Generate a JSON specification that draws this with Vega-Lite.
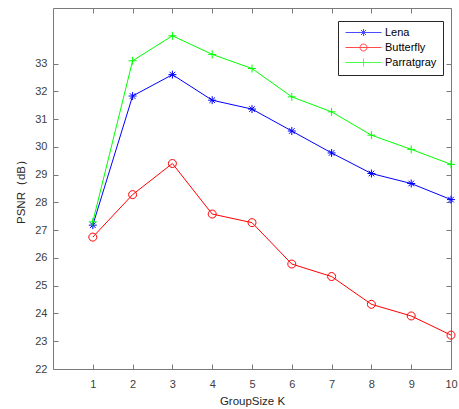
{
  "$schema": "https://vega.github.io/schema/vega-lite/v6.json",
  "width": 398,
  "height": 361,
  "autosize": {"type": "none"},
  "padding": {"left": 53, "top": 8, "right": 8, "bottom": 40},
  "background": "white",
  "config": {
    "view": {"stroke": null},
    "font": "Liberation Sans",
    "axis": {
      "domainColor": "#7a7a7a",
      "domainWidth": 1,
      "tickColor": "#7a7a7a",
      "tickSize": -5,
      "tickWidth": 1,
      "labelColor": "#404040",
      "labelFont": "Liberation Sans",
      "labelFontSize": 11,
      "titleFont": "Liberation Sans",
      "titleFontSize": 11.5,
      "titleFontWeight": "normal",
      "titleColor": "#262626",
      "grid": false
    }
  },
  "data": {
    "values": [
      {"k": 1, "series": "Lena", "psnr": 27.18},
      {"k": 2, "series": "Lena", "psnr": 31.83},
      {"k": 3, "series": "Lena", "psnr": 32.6},
      {"k": 4, "series": "Lena", "psnr": 31.68},
      {"k": 5, "series": "Lena", "psnr": 31.36},
      {"k": 6, "series": "Lena", "psnr": 30.57},
      {"k": 7, "series": "Lena", "psnr": 29.78},
      {"k": 8, "series": "Lena", "psnr": 29.04},
      {"k": 9, "series": "Lena", "psnr": 28.68},
      {"k": 10, "series": "Lena", "psnr": 28.1},
      {"k": 1, "series": "Butterfly", "psnr": 26.75},
      {"k": 2, "series": "Butterfly", "psnr": 28.28},
      {"k": 3, "series": "Butterfly", "psnr": 29.4},
      {"k": 4, "series": "Butterfly", "psnr": 27.58},
      {"k": 5, "series": "Butterfly", "psnr": 27.27},
      {"k": 6, "series": "Butterfly", "psnr": 25.78},
      {"k": 7, "series": "Butterfly", "psnr": 25.33},
      {"k": 8, "series": "Butterfly", "psnr": 24.33},
      {"k": 9, "series": "Butterfly", "psnr": 23.91},
      {"k": 10, "series": "Butterfly", "psnr": 23.22},
      {"k": 1, "series": "Parratgray", "psnr": 27.3},
      {"k": 2, "series": "Parratgray", "psnr": 33.1},
      {"k": 3, "series": "Parratgray", "psnr": 34.0},
      {"k": 4, "series": "Parratgray", "psnr": 33.33},
      {"k": 5, "series": "Parratgray", "psnr": 32.82},
      {"k": 6, "series": "Parratgray", "psnr": 31.8},
      {"k": 7, "series": "Parratgray", "psnr": 31.26},
      {"k": 8, "series": "Parratgray", "psnr": 30.42},
      {"k": 9, "series": "Parratgray", "psnr": 29.91},
      {"k": 10, "series": "Parratgray", "psnr": 29.37}
    ]
  },
  "encoding": {
    "x": {
      "field": "k", "type": "quantitative",
      "scale": {"domain": [0, 10], "nice": false, "zero": false},
      "axis": null
    },
    "y": {
      "field": "psnr", "type": "quantitative",
      "scale": {"domain": [22, 35], "nice": false, "zero": false},
      "axis": null
    }
  },
  "layer": [
    {
      "transform": [{"filter": "datum.series === 'Lena'"}],
      "mark": {"type": "line", "strokeWidth": 1, "color": "#0000ff"},
      "encoding": {
        "x": {"field": "k", "type": "quantitative",
          "axis": {"orient": "bottom", "values": [1,2,3,4,5,6,7,8,9,10], "title": "GroupSize K", "labelPadding": 14, "titlePadding": 6, "labelFlush": false}},
        "y": {"field": "psnr", "type": "quantitative",
          "axis": {"orient": "left", "values": [22,23,24,25,26,27,28,29,30,31,32,33], "title": "PSNR（dB）", "labelPadding": 11, "titlePadding": 8, "labelFlush": false}}
      }
    },
    {
      "transform": [{"filter": "datum.series === 'Lena'"}],
      "mark": {"type": "point", "shape": "M-1,0H1M0,-1V1M-0.7,-0.7L0.7,0.7M-0.7,0.7L0.7,-0.7", "size": 64, "filled": false, "color": "#0000ff", "strokeWidth": 1, "opacity": 1},
      "encoding": {
        "x": {"field": "k", "type": "quantitative", "axis": {"orient": "top", "values": [1,2,3,4,5,6,7,8,9,10], "labels": false, "title": null}},
        "y": {"field": "psnr", "type": "quantitative", "axis": {"orient": "right", "values": [22,23,24,25,26,27,28,29,30,31,32,33], "labels": false, "title": null}}
      }
    },
    {
      "transform": [{"filter": "datum.series === 'Butterfly'"}],
      "mark": {"type": "line", "strokeWidth": 1, "color": "#ff0000"}
    },
    {
      "transform": [{"filter": "datum.series === 'Butterfly'"}],
      "mark": {"type": "point", "shape": "M1,0A1,1 0 1,1 -1,0A1,1 0 1,1 1,0Z", "size": 64, "filled": false, "color": "#ff0000", "strokeWidth": 1, "opacity": 1}
    },
    {
      "transform": [{"filter": "datum.series === 'Parratgray'"}],
      "mark": {"type": "line", "strokeWidth": 1, "color": "#00ff00"}
    },
    {
      "transform": [{"filter": "datum.series === 'Parratgray'"}],
      "mark": {"type": "point", "shape": "M-1,0H1M0,-1V1", "size": 64, "filled": false, "color": "#00ff00", "strokeWidth": 1, "opacity": 1}
    },
    {
      "transform": [{"filter": "datum.k > 100"}],
      "mark": {"type": "point", "filled": false, "size": 100, "strokeWidth": 1},
      "encoding": {
        "color": {
          "field": "series", "type": "nominal",
          "scale": {"domain": ["Lena", "Butterfly", "Parratgray"], "range": ["#0000ff", "#ff0000", "#00ff00"]},
          "legend": {"orient": "none", "legendX": 285, "legendY": 13, "title": null, "padding": 6, "strokeColor": "#262626", "fillColor": "white", "symbolSize": 100, "symbolStrokeWidth": 1, "labelOffset": 30, "labelFontSize": 11, "labelFont": "Liberation Sans", "labelColor": "#000000", "rowPadding": 3}
        },
        "shape": {
          "field": "series", "type": "nominal",
          "scale": {"domain": ["Lena", "Butterfly", "Parratgray"], "range": [
            "M-0.8,0H6.4M2.8,-0.7V0.7M2.3,-0.5L3.3,0.5M2.3,0.5L3.3,-0.5",
            "M-0.8,0H6.4M3.5,0A0.7,0.7 0 1,1 2.1,0A0.7,0.7 0 1,1 3.5,0Z",
            "M-0.8,0H6.4M2.8,-0.8V0.8"
          ]},
          "legend": {"orient": "none", "legendX": 285, "legendY": 13, "title": null, "padding": 6, "strokeColor": "#262626", "fillColor": "white", "symbolSize": 100, "symbolStrokeWidth": 1, "labelOffset": 30, "labelFontSize": 11, "labelFont": "Liberation Sans", "labelColor": "#000000", "rowPadding": 3}
        }
      }
    }
  ],
  "resolve": {"axis": {"x": "independent", "y": "independent"}}
}
